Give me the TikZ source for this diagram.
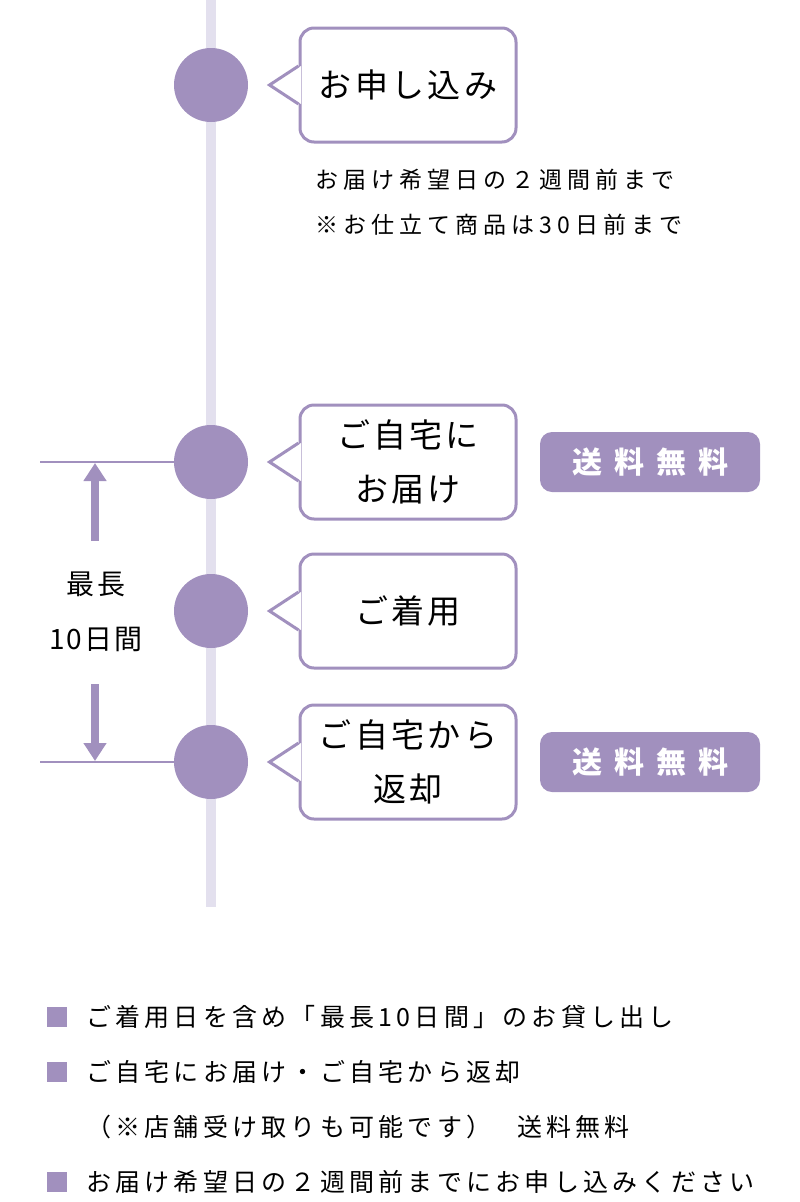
\documentclass[tikz,border=0pt]{standalone}
\usepackage{fontspec}
\setmainfont{Noto Sans CJK JP}
\usetikzlibrary{arrows.meta}
\definecolor{lav}{HTML}{A190BE}
\definecolor{trackcol}{HTML}{E3E0EE}
\newcommand\bubblefont{\fontsize{33}{54}\selectfont\addfontfeature{LetterSpace=10}}
\newcommand\notefont{\fontsize{23}{45}\selectfont\addfontfeature{LetterSpace=22}}
\newcommand\badgefont{\fontsize{30}{30}\selectfont\bfseries\addfontfeature{LetterSpace=40}}
\newcommand\listfont{\fontsize{25}{30}\selectfont\addfontfeature{LetterSpace=17}}
\newcommand\sidefont{\fontsize{28}{55}\selectfont\addfontfeature{LetterSpace=8}}
\tikzset{
  dot/.style={circle,fill=lav,minimum size=74pt,inner sep=0pt},
  bubble/.style={draw=lav,line width=3pt,rounded corners=14pt,fill=white,minimum width=216pt,minimum height=114pt,align=center,inner sep=0pt,font=\bubblefont},
  tail/.style={draw=lav,line width=3pt},
  badge/.style={fill=lav,rounded corners=12pt,minimum width=220pt,minimum height=60pt,inner sep=0pt,text=white,font=\badgefont},
  notetext/.style={anchor=west,inner sep=0pt,font=\notefont},
  listtext/.style={anchor=west,inner sep=0pt,font=\listfont},
  sidetext/.style={align=center,inner sep=0pt,font=\sidefont},
  sq/.style={fill=lav,minimum size=20pt,inner sep=0pt},
  guide/.style={lav,line width=2pt},
  bigarrow/.style={lav,line width=8pt,-{Triangle[width=22pt,length=18pt]}},
  trackline/.style={trackcol,line width=10pt}
}
\begin{document}
\begin{tikzpicture}[x=1pt,y=-1pt]
\useasboundingbox (0,0) rectangle (800,1202);
% timeline
\coordinate (top) at (211,0);
\coordinate (bottom) at (211,907);
\draw[trackline] (top) -- (bottom);
\node[dot] (c1) at (211,85) {};
\node[dot] (c2) at (211,462) {};
\node[dot] (c3) at (211,611) {};
\node[dot] (c4) at (211,762) {};
% bubbles
\node[bubble] (b1) at (408,85) {お申し込み};
\node[bubble] (b2) at (408,462) {ご自宅に\\お届け};
\node[bubble] (b3) at (408,611) {ご着用};
\node[bubble] (b4) at (408,762) {ご自宅から\\返却};
\coordinate (t1) at ([xshift=-29pt]b1.west);
\coordinate (t2) at ([xshift=-29pt]b2.west);
\coordinate (t3) at ([xshift=-29pt]b3.west);
\coordinate (t4) at ([xshift=-29pt]b4.west);
\fill[white] ([xshift=2.5pt,yshift=19pt]b1.west) -- (t1) -- ([xshift=2.5pt,yshift=-19pt]b1.west) -- cycle;
\draw[tail] ([yshift=19pt]b1.west) -- (t1) -- ([yshift=-19pt]b1.west);
\fill[white] ([xshift=2.5pt,yshift=19pt]b2.west) -- (t2) -- ([xshift=2.5pt,yshift=-19pt]b2.west) -- cycle;
\draw[tail] ([yshift=19pt]b2.west) -- (t2) -- ([yshift=-19pt]b2.west);
\fill[white] ([xshift=2.5pt,yshift=19pt]b3.west) -- (t3) -- ([xshift=2.5pt,yshift=-19pt]b3.west) -- cycle;
\draw[tail] ([yshift=19pt]b3.west) -- (t3) -- ([yshift=-19pt]b3.west);
\fill[white] ([xshift=2.5pt,yshift=19pt]b4.west) -- (t4) -- ([xshift=2.5pt,yshift=-19pt]b4.west) -- cycle;
\draw[tail] ([yshift=19pt]b4.west) -- (t4) -- ([yshift=-19pt]b4.west);
\node[notetext] (n1) at (315,180) {お届け希望日の２週間前まで};
\node[notetext] (n2) at (315,225) {※お仕立て商品は30日前まで};
% badges
\node[badge] (f1) at (650,462) {送料無料};
\node[badge] (f2) at (650,762) {送料無料};
% rental period
\coordinate (g1) at (40,462);
\coordinate (g2) at (40,762);
\draw[guide] (g1) -- (c2);
\draw[guide] (g2) -- (c4);
\coordinate (a1s) at (95,541);
\coordinate (a1e) at (95,463);
\coordinate (a2s) at (95,684);
\coordinate (a2e) at (95,761);
\draw[bigarrow] (a1s) -- (a1e);
\draw[bigarrow] (a2s) -- (a2e);
\node[sidetext] (side) at (96,612) {最長\\10日間};
% notes
\node[sq] (s1) at (57,1017) {};
\node[sq] (s2) at (57,1072) {};
\node[sq] (s4) at (57,1182) {};
\node[listtext] (l1) at (86,1017) {ご着用日を含め「最長10日間」のお貸し出し};
\node[listtext] (l2) at (86,1072) {ご自宅にお届け・ご自宅から返却};
\node[listtext] (l3) at (86,1127) {（※店舗受け取りも可能です）};
\node[listtext] (l3b) at (517,1127) {送料無料};
\node[listtext] (l4) at (86,1182) {お届け希望日の２週間前までにお申し込みください};
\end{tikzpicture}
\end{document}
